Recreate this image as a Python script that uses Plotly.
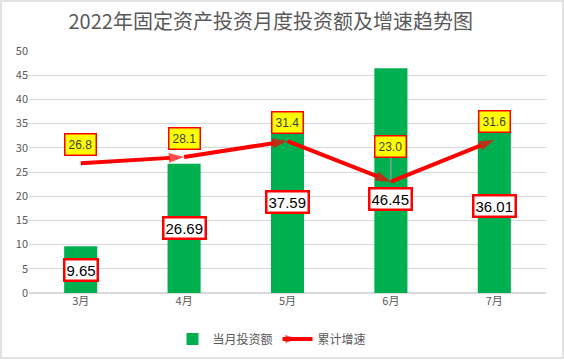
import plotly.graph_objects as go

months = ["3月", "4月", "5月", "6月", "7月"]
monthly_invest = [9.65, 26.69, 37.59, 46.45, 36.01]
cum_growth = [26.8, 28.1, 31.4, 23.0, 31.6]
y_ticks = [0, 5, 10, 15, 20, 25, 30, 35, 40, 45, 50]

GREEN = "#00B050"
RED = "#FF0000"
YELLOW = "#FFFF00"
GRAY = "#595959"
FONT = "Microsoft YaHei, Noto Sans CJK SC, sans-serif"

W, H = 564, 360
ML, MR, MT, MB = 29, 18, 51, 67
PW, PH = W - ML - MR, H - MT - MB

fig = go.Figure()
fig.add_trace(go.Bar(
    x=months, y=monthly_invest, name="当月投资额",
    marker=dict(color=GREEN, line=dict(width=0)), width=0.32,
))
fig.add_trace(go.Scatter(
    x=months, y=cum_growth, name="累计增速", mode="lines+markers",
    line=dict(color=RED, width=4),
    marker=dict(symbol="arrow", angleref="previous", color=RED,
                size=[0] + [16] * (len(months) - 1), line=dict(width=0)),
))

annotations = []
for i, (m, v) in enumerate(zip(months, monthly_invest)):
    annotations.append(dict(
        x=m, y=v / 2, text=f"{v:.2f}", showarrow=False,
        yshift=-18 if i == 3 else 0,
        font=dict(size=15, color="black", family="Arial"),
        bgcolor="white", bordercolor=RED, borderwidth=2.5, borderpad=1,
    ))
for i, (m, g) in enumerate(zip(months, cum_growth)):
    common = dict(x=m, y=g, text=f"{g:.1f}",
                  font=dict(size=12, color="#404040", family="Arial"),
                  bgcolor=YELLOW, bordercolor=RED, borderwidth=1.5, borderpad=3)
    if i == 3:
        annotations.append(dict(**common, showarrow=True, arrowhead=0,
                                arrowcolor="#A6A6A6", arrowwidth=1,
                                ax=0, ay=-35, standoff=2))
    else:
        annotations.append(dict(**common, showarrow=False, yshift=19))

fig.update_layout(
    width=W, height=H,
    margin=dict(l=ML, r=MR, t=MT, b=MB, autoexpand=False),
    paper_bgcolor="white", plot_bgcolor="white",
    title=dict(text="2022年固定资产投资月度投资额及增速趋势图",
               x=0.48, xanchor="center", y=0.94, yanchor="middle",
               yref="container",
               font=dict(size=20, color=GRAY, family=FONT)),
    font=dict(family=FONT, color=GRAY),
    showlegend=True,
    legend=dict(orientation="h", x=0.47, xanchor="center", y=-0.13, yanchor="top",
                font=dict(size=12, color=GRAY), itemwidth=30),
    annotations=annotations,
)
fig.update_xaxes(showgrid=False, showline=False, ticks="", automargin=False,
                 tickfont=dict(size=11, color=GRAY))
fig.update_yaxes(range=[0, 50], tickvals=y_ticks, showgrid=True, automargin=False,
                 gridcolor="#D9D9D9", gridwidth=1, zeroline=True,
                 zerolinecolor="#D9D9D9", showline=False, ticks="",
                 tickfont=dict(size=11, color=GRAY))

fig.add_shape(type="rect", xref="paper", yref="paper",
              x0=(-ML + 1) / PW, y0=(-MB + 2) / PH,
              x1=(W - ML - 1) / PW, y1=(H - MB - 1) / PH,
              line=dict(color="#D9D9D9", width=1.5))

fig.write_html("out.html", config={"displayModeBar": False},
               post_script="document.body.style.margin='0px';")
